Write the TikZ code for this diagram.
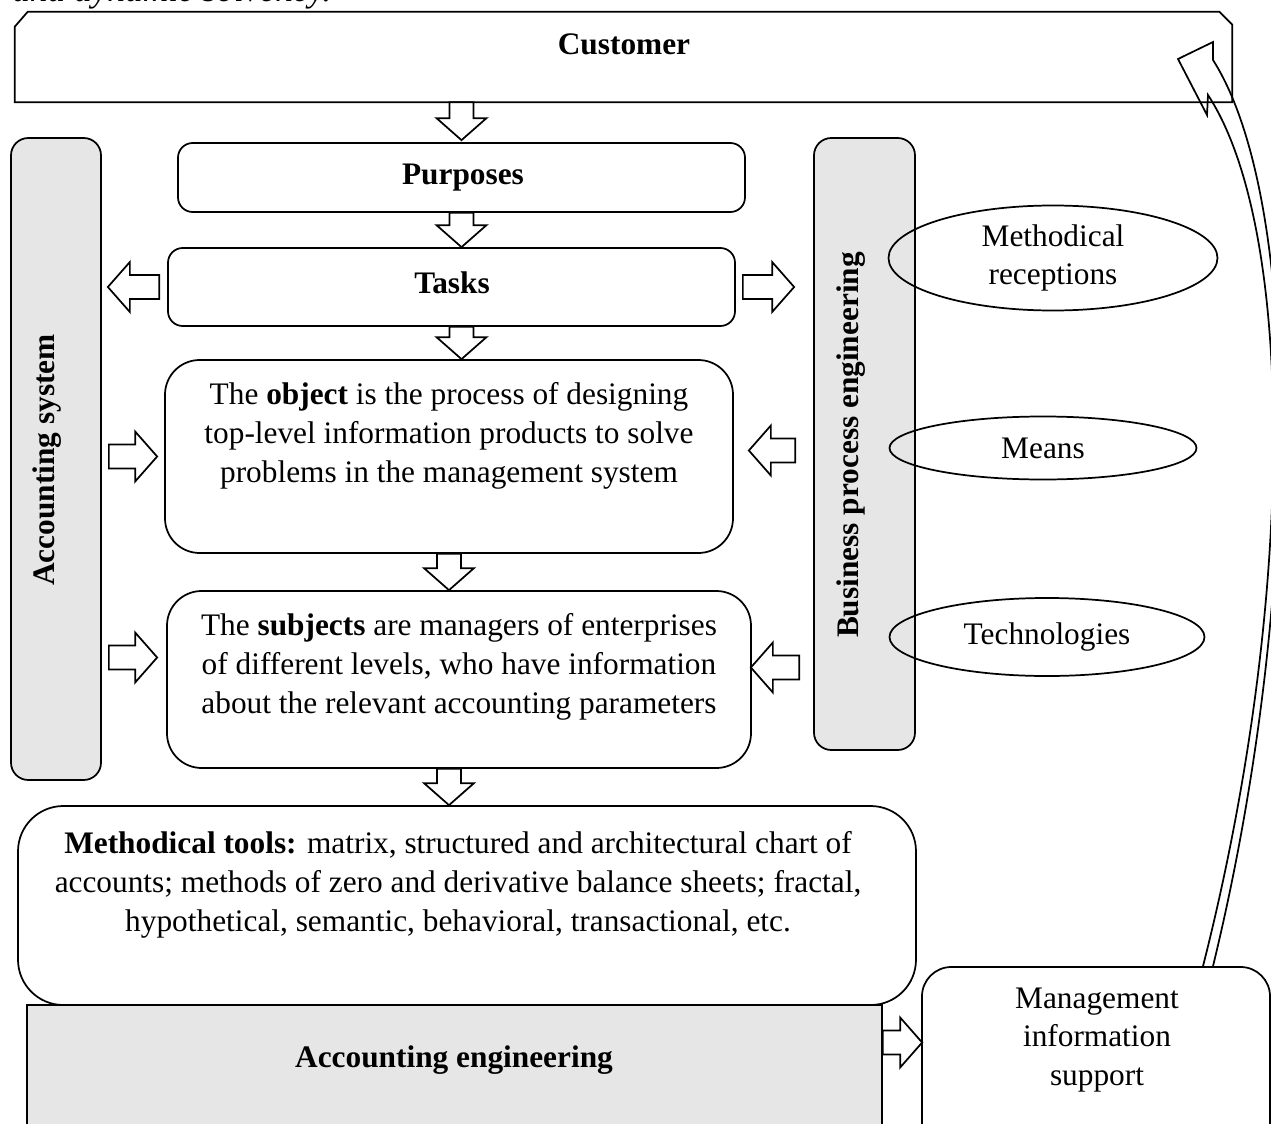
\documentclass[tikz,border=0pt]{standalone}
\usepackage{fontspec}
\setmainfont{Liberation Serif}
\usetikzlibrary{shapes.geometric}
\usetikzlibrary{fit}
\usetikzlibrary{calc}

\definecolor{panelgray}{RGB}{230,230,230}

\tikzset{
  box/.style={draw, line width=1.3pt, inner sep=0pt, fill=white, rounded corners=#1},
  box/.default=11pt,
  sidebar/.style={box=13pt, fill=panelgray},
  oval/.style={draw, ellipse, line width=1.3pt, inner sep=0pt, align=center},
  blockarrow/.style={draw, fill=white, line width=1.3pt, line join=miter,
    to path={let \p1=($(\tikztotarget)!16.5pt!(\tikztostart)$) in
      -- ($(\tikztostart)!9pt!90:(\tikztotarget)$)
      -- ($(\p1)!9pt!90:(\tikztotarget)$)
      -- ($(\p1)!18.75pt!90:(\tikztotarget)$)
      -- (\tikztotarget)
      -- ($(\p1)!18.75pt!-90:(\tikztotarget)$)
      -- ($(\p1)!9pt!-90:(\tikztotarget)$)
      -- ($(\tikztostart)!9pt!-90:(\tikztotarget)$)
      -- cycle}},
  feedback/.style={draw, line width=1.3pt, line join=miter},
}

\begin{document}
\begin{tikzpicture}[x=0.75pt, y=-0.75pt, font=\fontsize{23.5}{29}\selectfont]
  \useasboundingbox (0,0) rectangle (1271,1124);
  \clip (0,0) rectangle (1271,1124);

  % cut line of the text above
  \node[anchor=base west, inner sep=0pt, font=\fontsize{26.5}{30}\selectfont\itshape] (solv) at (12,2) {and dynamic solvency.};

  \node[inner sep=0pt, fit={(15,12) (1232,102)}] (cust) {};
  \draw[line width=1.3pt] (cust.south west) -- ($(cust.north west)+(0,15)$) -- ($(cust.north west)+(13,0)$)
    -- ($(cust.north east)+(-13,0)$) -- ($(cust.north east)+(0,13)$) -- (cust.south east) -- cycle;
  \node (custlbl) at (624,44) {\textbf{Customer}};

  % side bars
  \node[sidebar, fit={(11,138) (101,780)}] (accsys) {};
  \node[rotate=90] (accsyslbl) at (47,460) {\textbf{Accounting system}};
  \node[sidebar, fit={(814,138) (915,750)}] (bpe) {};
  \node[rotate=90] (bpelbl) at (851,445) {\textbf{Business process engineering}};

  \node[oval, minimum width=246.75pt, minimum height=78.75pt] (meth) at (1053,258) {Methodical\\receptions};
  \node[oval, minimum width=230.25pt, minimum height=47.25pt] (means) at (1043,448) {Means};
  \node[oval, minimum width=236.25pt, minimum height=58.5pt] (tech) at (1047,637) {Technologies};

  % main column
  \node[box, fit={(178,143) (745,212)}] (purp) {};
  \node (purplbl) at (463,178) {\textbf{Purposes}};
  \node[box, fit={(168,248) (735,326)}] (tasks) {};
  \node (taskslbl) at (452,283) {\textbf{Tasks}};
  \node[box=26pt, fit={(165,360) (733,553)}] (obj) {};
  \node[align=center] (objtxt) at (449,436) {The \textbf{object} is the process of designing\\
    top-level information products to solve\\problems in the management system};
  \node[box=26pt, fit={(167,591) (751,768)}] (subj) {};
  \node[align=center] (subjtxt) at (459,667) {The \textbf{subjects} are managers of enterprises\\
    of different levels, who have information\\about the relevant accounting parameters};

  \node[box=0pt, fill=panelgray, fit={(27,1005) (882,1160)}] (acceng) {};
  \node (accenglbl) at (454,1060) {\textbf{Accounting engineering}};
  \node[box=34pt, fit={(18,806) (916,1005)}] (tools) {};
  \node[align=center] (toolstxt) at (458,885) {\textbf{Methodical tools:} matrix, structured and architectural chart of\\
    accounts; methods of zero and derivative balance sheets; fractal,\\
    hypothetical, semantic, behavioral, transactional, etc.};

  \node[box=22pt, fit={(922,967) (1270,1160)}] (mgmt) {};
  \node[align=center] (mgmttxt) at (1097,1040) {Management\\information\\support};

  % block arrows
  \draw[blockarrow] (purp.north |- cust.south) to ($(purp.north)+(0,-2)$);
  \draw[blockarrow] (purp.south) to (purp.south |- tasks.north);
  \draw[blockarrow] (purp.south |- tasks.south) to (purp.south |- obj.north);
  \draw[blockarrow] (obj.south) to (obj.south |- subj.north);
  \draw[blockarrow] (obj.south |- subj.south) to (obj.south |- tools.north);
  \draw[blockarrow] ($(tasks.west)+(-8,0)$) to ($(accsys.east |- tasks.west)+(6,0)$);
  \draw[blockarrow] ($(tasks.east)+(7,0)$) to ($(bpe.west |- tasks.east)+(-19,0)$);
  \draw[blockarrow] ($(accsys.east |- obj.west)+(7,0)$) to ($(obj.west)+(-7,0)$);
  \draw[blockarrow] ($(bpe.west |- obj.east)+(-18,-6)$) to ($(obj.east)+(15,-6)$);
  \draw[blockarrow] ($(accsys.east |- subj.west)+(7,-22)$) to ($(subj.west)+(-9,-22)$);
  \draw[blockarrow] ($(bpe.west |- subj.east)+(-14,-12)$) to ($(subj.east)+(-1,-12)$);
  \draw[blockarrow] ($(acceng.east)+(0,-40)$) to ($(mgmt.west |- acceng.east)+(1,-40)$);

  % feedback to the customer
  \coordinate (fbin) at ($(mgmt.north)+(107,0)$);
  \coordinate (fbout) at ($(mgmt.north)+(117,0)$);
  \draw[feedback] (fbin) .. controls (1296,600) and (1296,230) .. (1208,95)
    -- (1207,115) -- (1178,59) -- (1213,42) -- (1213,60)
    .. controls (1302,200) and (1302,600) .. (fbout);
\end{tikzpicture}
\end{document}
